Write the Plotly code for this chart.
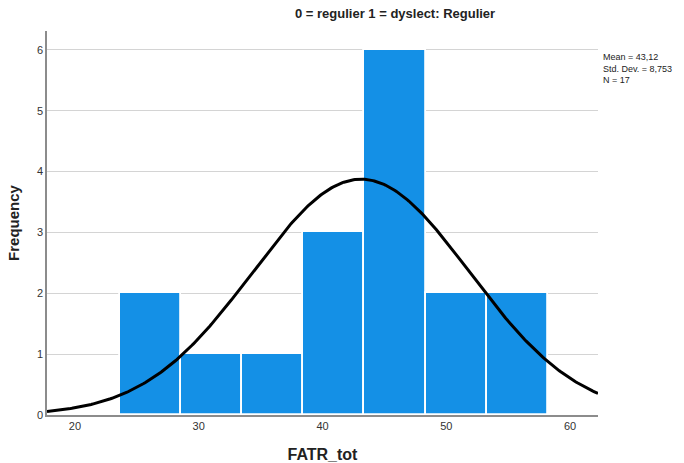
import numpy as np
import plotly.graph_objects as go

# Histogram data
bin_start = 23.65
bin_width = 4.935
counts = [2, 1, 1, 3, 6, 2, 2]

# Stated statistics
mean_val = 43.12
sd_val = 8.753
n_val = 17
curve_bin_width = 5.0

x_range = [17.74, 62.26]
y_range = [0, 6.31]
x_ticks = [20, 30, 40, 50, 60]
y_ticks = [0, 1, 2, 3, 4, 5, 6]

title_text = "0 = regulier 1 = dyslect: Regulier"
stats_text = "Mean = 43,12<br>Std. Dev. = 8,753<br>N = 17"

centers = [bin_start + bin_width * (i + 0.5) for i in range(len(counts))]

xc = np.linspace(x_range[0], x_range[1], 400)
yc = n_val * curve_bin_width / (sd_val * np.sqrt(2 * np.pi)) * np.exp(-0.5 * ((xc - mean_val) / sd_val) ** 2)

fig = go.Figure()
fig.add_trace(go.Bar(
    x=centers, y=counts, width=bin_width,
    marker=dict(color="#1490E6", line=dict(color="white", width=1.8)),
    hoverinfo="skip", showlegend=False,
))
fig.add_trace(go.Scatter(
    x=xc, y=yc, mode="lines", line=dict(color="black", width=3),
    hoverinfo="skip", showlegend=False, cliponaxis=True,
))

font_narrow = "Liberation Sans Narrow, Arial Narrow, Liberation Sans, sans-serif"

fig.update_layout(
    width=684, height=463,
    margin=dict(l=47, r=86, t=31, b=48),
    paper_bgcolor="white", plot_bgcolor="white",
    bargap=0,
    font=dict(family=font_narrow, color="#333333", size=11),
    xaxis=dict(
        range=x_range, tickvals=x_ticks, ticks="", showgrid=False, automargin=False,
        showline=True, linecolor="#8c8c8c", linewidth=1.5, zeroline=False,
        tickfont=dict(size=11, color="#333333", family=font_narrow),
        title=dict(text="<b>FATR_tot</b>", font=dict(size=16, color="#222222", family="Liberation Sans, Arial, sans-serif"), standoff=22),
    ),
    yaxis=dict(
        range=y_range, tickvals=y_ticks, ticks="", showgrid=True, automargin=False,
        gridcolor="#d4d4d4", gridwidth=1,
        showline=True, linecolor="#8c8c8c", linewidth=1.5, zeroline=False,
        tickfont=dict(size=11, color="#333333", family=font_narrow),
        title=dict(text="<b>Frequency</b>", font=dict(size=15, color="#222222", family="Liberation Sans, Arial, sans-serif"), standoff=14),
    ),
    annotations=[
        dict(text="<b>" + title_text + "</b>", xref="paper", yref="paper",
             x=0.632, y=1.0, yshift=18, xanchor="center", yanchor="middle",
             showarrow=False, font=dict(size=13, color="#222222", family=font_narrow)),
        dict(text=stats_text, xref="paper", yref="paper",
             x=1.0, xshift=3, y=6 / y_range[1], xanchor="left", yanchor="top",
             align="left", showarrow=False,
             font=dict(size=9, color="#222222", family="Liberation Sans, Arial, sans-serif")),
    ],
)

fig.write_html("out.html", config={"displayModeBar": False},
               post_script="document.body.style.margin='0px';document.body.style.padding='0px';")
